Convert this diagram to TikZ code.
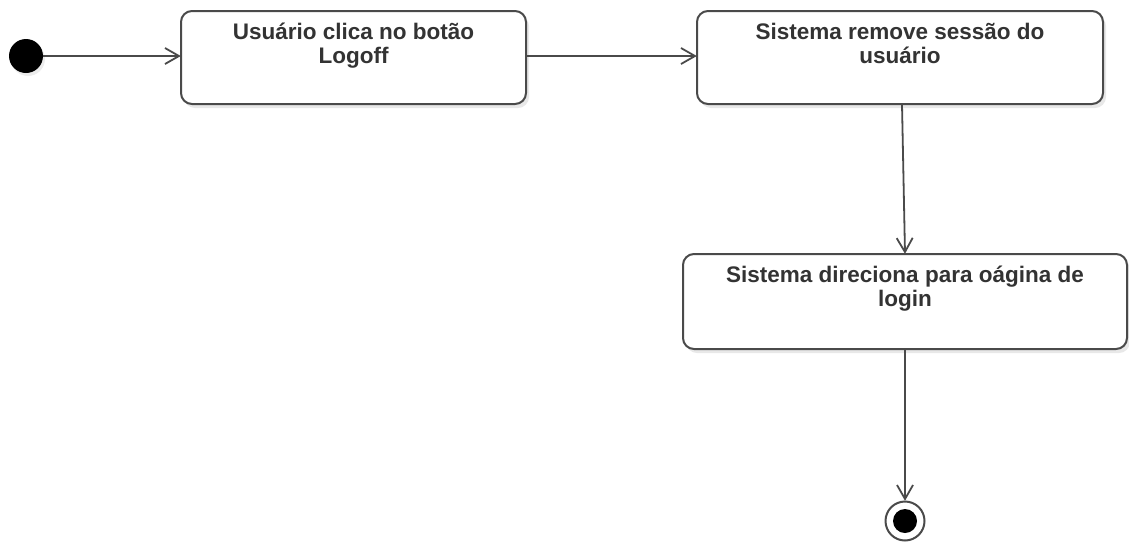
\documentclass[tikz,border=0pt]{standalone}
\usepackage{fontspec}
\setmainfont{Liberation Sans}
\usetikzlibrary{arrows.meta,shadows}
\definecolor{linegray}{HTML}{4A4A4A}
\definecolor{textgray}{HTML}{333333}
\tikzset{
  actbox/.style={draw=linegray, line width=2pt, rounded corners=11pt, fill=white,
    drop shadow={opacity=0.18, shadow xshift=3pt, shadow yshift=-4pt}},
  acttext/.style={anchor=north, align=center, text=textgray, font=\fontsize{22.5}{24}\selectfont\bfseries, inner sep=0pt},
  flow/.style={draw=linegray, line width=1.8pt, -{Straight Barb[length=14pt, width=16pt, line width=1.8pt]}},
}
\begin{document}
\begin{tikzpicture}[x=1pt, y=-1pt]
\useasboundingbox (0,0) rectangle (1129,542);
\fill[black, drop shadow={opacity=0.15, shadow xshift=2pt, shadow yshift=-3pt}] (26,56) circle (17);
\node[circle, minimum size=34pt, inner sep=0pt] (s) at (26,56) {};
\path[actbox] (181,11) rectangle (526,104);
\node[minimum width=345pt, minimum height=93pt, inner sep=0pt] (b1) at (353.5,57.5) {};
\path[actbox] (697,11) rectangle (1103,104);
\node[minimum width=406pt, minimum height=93pt, inner sep=0pt] (b2) at (900,57.5) {};
\path[actbox] (683,254) rectangle (1127,349);
\node[minimum width=444pt, minimum height=95pt, inner sep=0pt] (b3) at (905,301.5) {};
\node[acttext] (t1) at (353.5,23) {Usuário clica no botão\\Logoff};
\node[acttext] (t2) at (900,23) {Sistema remove sessão do\\usuário};
\node[acttext] (t3) at (905,266) {Sistema direciona para oágina de\\login};
\draw[linegray, line width=2pt, fill=white] (905,521) circle (19.5);
\fill[black] (905,521) circle (12);
\node[circle, minimum size=40pt, inner sep=0pt] (e) at (905,521) {};
\draw[flow] (s.east) -- (b1.west |- s.east);
\draw[flow] (b1.east |- s.east) -- (b2.west |- s.east);
\draw[flow] (b2.south -| 902,0) -- (b3.north -| 905,0);
\draw[flow] (b3.south -| 905,0) -- (e.north);
\end{tikzpicture}
\end{document}
